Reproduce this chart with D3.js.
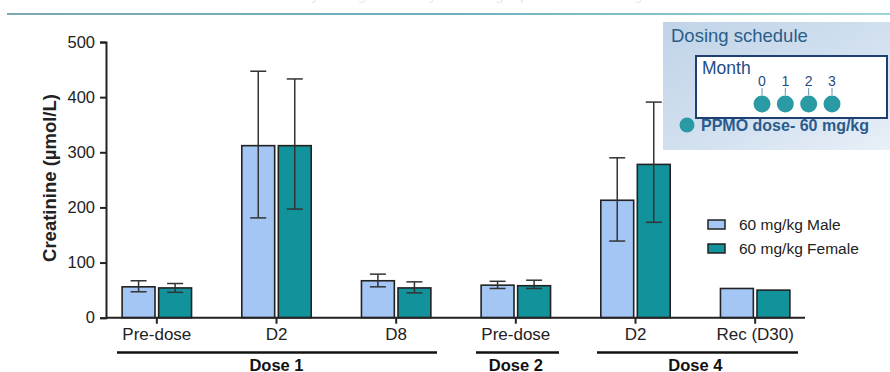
<!DOCTYPE html>
<html>
<head>
<meta charset="utf-8">
<script src="https://cdn.jsdelivr.net/npm/d3@7"></script>
<style>
  body { margin: 0; background: #fff; }
  text { font-family: Arial, "Liberation Sans", sans-serif; }
</style>
</head>
<body>
<div id="chart"></div>
<script>
// Data
const categories = ["Pre-dose", "D2", "D8", "Pre-dose ", "D2 ", "Rec (D30)"];
const series = ["60 mg/kg Male", "60 mg/kg Female"];
const maleMean = [56, 312, 67, 59, 213, 53];
const maleLow = [47, 181, 56, 53, 139, null];
const maleHigh = [67, 447, 79, 66, 290, null];
const femaleMean = [54, 312, 54, 58, 278, 50];
const femaleLow = [46, 197, 45, 53, 173, null];
const femaleHigh = [62, 433, 65, 68, 391, null];
const yTicks = [0, 100, 200, 300, 400, 500];
const groups = [
    { label: "Dose 1", from: 0, to: 2 },
    { label: "Dose 2", from: 3, to: 3 },
    { label: "Dose 4", from: 4, to: 5 }
];
const months = ["0", "1", "2", "3"];

const colors = ["#a3c6f4", "#12939c"];

const width = 890,
    height = 372;

const svg = d3.select("#chart")
    .append("svg")
    .attr("width", width)
    .attr("height", height);

// Scales
const x = d3.scaleBand()
    .domain(categories)
    .range([97, 815])
    .paddingInner(0.42)
    .paddingOuter(0.21);

const xSub = d3.scaleBand()
    .domain(series)
    .range([0, x.bandwidth()])
    .paddingInner(0.1);

const y = d3.scaleLinear()
    .domain([0, 500])
    .range([317.7, 42]);

// Top decoration: faded heading (cut by the page edge) and teal rule
svg.append("text")
    .attr("x", 176)
    .attr("y", 0)
    .attr("fill", "#ebebeb")
    .attr("textLength", 466)
    .style("font-size", "15px")
    .text("Serum creatinine in cynomolgus monkeys following repeat PPMO dosing");

const ruleGrad = svg.append("defs").append("linearGradient")
    .attr("id", "rule");
ruleGrad.append("stop").attr("offset", "0%").attr("stop-color", "#7aa7b4");
ruleGrad.append("stop").attr("offset", "50%").attr("stop-color", "#6fb0bb");
ruleGrad.append("stop").attr("offset", "100%").attr("stop-color", "#9fd3da");
svg.append("rect")
    .attr("x", 7).attr("y", 13)
    .attr("width", width - 7).attr("height", 2)
    .attr("fill", "url(#rule)");

// Y axis
const yAxis = svg.append("g")
    .attr("transform", "translate(106,0)")
    .call(d3.axisLeft(y).tickValues(yTicks).tickSize(6).tickPadding(5));
yAxis.select(".domain").attr("stroke", "#222").attr("stroke-width", 2);
yAxis.selectAll(".tick line").attr("stroke", "#222").attr("stroke-width", 2);
yAxis.selectAll(".tick text")
    .attr("fill", "#222")
    .style("font-size", "16.5px");

svg.append("text")
    .attr("transform", "translate(56,178) rotate(-90)")
    .attr("text-anchor", "middle")
    .attr("fill", "#222")
    .style("font-size", "18.5px")
    .style("font-weight", "bold")
    .text("Creatinine (µmol/L)");

// Bars
const rows = categories.map((c, i) => ({
    cat: c,
    vals: [
        { s: series[0], v: maleMean[i], lo: maleLow[i], hi: maleHigh[i], c: colors[0] },
        { s: series[1], v: femaleMean[i], lo: femaleLow[i], hi: femaleHigh[i], c: colors[1] }
    ]
}));

const cat = svg.selectAll(".cat")
    .data(rows)
    .enter()
    .append("g")
    .attr("class", "cat")
    .attr("transform", d => `translate(${x(d.cat)},0)`);

cat.selectAll("rect")
    .data(d => d.vals)
    .enter()
    .append("rect")
    .attr("x", d => xSub(d.s))
    .attr("y", d => y(d.v))
    .attr("width", xSub.bandwidth())
    .attr("height", d => y(0) - y(d.v))
    .attr("fill", d => d.c)
    .attr("stroke", "#222")
    .attr("stroke-width", 1.6);

// Error bars
const err = cat.selectAll(".err")
    .data(d => d.vals.filter(v => v.lo !== null))
    .enter()
    .append("g")
    .attr("class", "err")
    .attr("stroke", "#333")
    .attr("stroke-width", 1.5);
err.append("line")
    .attr("x1", d => xSub(d.s) + xSub.bandwidth() / 2)
    .attr("x2", d => xSub(d.s) + xSub.bandwidth() / 2)
    .attr("y1", d => y(d.lo))
    .attr("y2", d => y(d.hi));
err.selectAll(".cap")
    .data(d => [d.lo, d.hi].map(v => ({ s: d.s, v: v })))
    .enter()
    .append("line")
    .attr("x1", d => xSub(d.s) + xSub.bandwidth() / 2 - 8)
    .attr("x2", d => xSub(d.s) + xSub.bandwidth() / 2 + 8)
    .attr("y1", d => y(d.v))
    .attr("y2", d => y(d.v));

// X axis
const xAxis = svg.append("g")
    .attr("transform", `translate(0,${y(0)})`)
    .call(d3.axisBottom(x).tickSize(6).tickPadding(4).tickSizeOuter(0)
        .tickFormat(d => d.trim()));
xAxis.select(".domain")
    .attr("d", "M106,0H805")
    .attr("stroke", "#222")
    .attr("stroke-width", 2);
xAxis.selectAll(".tick line").attr("stroke", "#222").attr("stroke-width", 2);
xAxis.selectAll(".tick text")
    .attr("fill", "#222")
    .style("font-size", "17px");

// Group brackets
const gx = [[117, 437], [476, 559], [597, 798]];
const grp = svg.selectAll(".grp")
    .data(groups)
    .enter()
    .append("g")
    .attr("class", "grp");
grp.append("line")
    .attr("x1", (d, i) => gx[i][0])
    .attr("x2", (d, i) => gx[i][1])
    .attr("y1", 352.5)
    .attr("y2", 352.5)
    .attr("stroke", "#111")
    .attr("stroke-width", 2.5);
grp.append("text")
    .attr("x", d => (x(categories[d.from]) + x(categories[d.to]) + x.bandwidth()) / 2)
    .attr("y", 371)
    .attr("text-anchor", "middle")
    .attr("fill", "#111")
    .style("font-size", "16.5px")
    .style("font-weight", "bold")
    .text(d => d.label);

// Legend
const legend = svg.append("g")
    .attr("transform", "translate(708,220)");
const li = legend.selectAll("g")
    .data(series)
    .enter()
    .append("g")
    .attr("transform", (d, i) => `translate(0,${i * 24})`);
li.append("rect")
    .attr("x", 0).attr("y", 0)
    .attr("width", 17).attr("height", 9)
    .attr("fill", (d, i) => colors[i])
    .attr("stroke", "#222")
    .attr("stroke-width", 1.5);
li.append("text")
    .attr("x", 31)
    .attr("y", 10)
    .attr("fill", "#222")
    .style("font-size", "15.5px")
    .text(d => d);

// Dosing schedule panel
const bg = svg.select("defs").append("linearGradient")
    .attr("id", "panel")
    .attr("x1", "0%").attr("y1", "0%")
    .attr("x2", "100%").attr("y2", "100%");
bg.append("stop").attr("offset", "0%").attr("stop-color", "#c0d3e8");
bg.append("stop").attr("offset", "60%").attr("stop-color", "#d4e2f0");
bg.append("stop").attr("offset", "100%").attr("stop-color", "#e9f0f8");

const panel = svg.append("g");
panel.append("rect")
    .attr("x", 663).attr("y", 22)
    .attr("width", 227).attr("height", 128)
    .attr("fill", "url(#panel)");
panel.append("text")
    .attr("x", 671).attr("y", 42)
    .attr("fill", "#2b5d89")
    .style("font-size", "18.5px")
    .text("Dosing schedule");
panel.append("rect")
    .attr("x", 696).attr("y", 56)
    .attr("width", 191).attr("height", 62)
    .attr("fill", "#fff")
    .attr("stroke", "#1f3f73")
    .attr("stroke-width", 2);
panel.append("text")
    .attr("x", 702).attr("y", 74)
    .attr("fill", "#1f4c86")
    .style("font-size", "17.5px")
    .text("Month");

const mx = d3.scalePoint()
    .domain(months)
    .range([762, 832]);
const mo = panel.selectAll(".mo")
    .data(months)
    .enter()
    .append("g")
    .attr("class", "mo");
mo.append("text")
    .attr("x", d => mx(d))
    .attr("y", 86)
    .attr("text-anchor", "middle")
    .attr("fill", "#1f4c86")
    .style("font-size", "14px")
    .text(d => d);
mo.append("line")
    .attr("x1", d => mx(d)).attr("x2", d => mx(d))
    .attr("y1", 88).attr("y2", 95)
    .attr("stroke", "#6b8fb0")
    .attr("stroke-width", 1);
mo.append("circle")
    .attr("cx", d => mx(d))
    .attr("cy", 104)
    .attr("r", 8.5)
    .attr("fill", "#2a9aa4");

panel.append("circle")
    .attr("cx", 687).attr("cy", 125)
    .attr("r", 7.5)
    .attr("fill", "#2a9aa4");
panel.append("text")
    .attr("x", 701).attr("y", 131)
    .attr("fill", "#2a5b8e")
    .style("font-size", "16px")
    .style("font-weight", "bold")
    .text("PPMO dose- 60 mg/kg");
</script>
</body>
</html>
